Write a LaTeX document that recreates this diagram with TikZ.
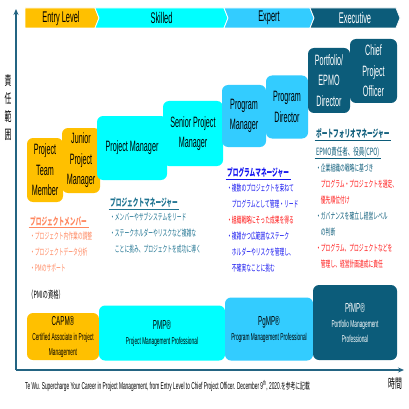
\documentclass[tikz,border=0pt]{standalone}
\usepackage{fontspec}
\setmainfont{Liberation Sans}[FakeStretch=0.48]
\newfontfamily\jp{Noto Sans CJK JP}[FakeStretch=0.53]
\newfontfamily\jphd{Noto Sans CJK JP}[FakeStretch=0.55]
\usetikzlibrary{arrows.meta, positioning}
\definecolor{entryorange}{RGB}{255,192,0}
\definecolor{skillcyan}{RGB}{0,255,255}
\definecolor{expertblue}{RGB}{51,204,255}
\definecolor{execteal}{RGB}{12,92,122}
\definecolor{axisteal}{RGB}{35,100,130}
\definecolor{membercoral}{RGB}{255,135,95}
\definecolor{pmteal}{RGB}{30,115,145}
\definecolor{pgblue}{RGB}{20,20,240}
\definecolor{hotred}{RGB}{255,20,20}
\newcommand{\certsub}[1]{{\fontsize{10}{13}\selectfont #1}}
\tikzset{
    role/.style = {rectangle, rounded corners=6pt, inner sep=1pt, align=center, font=\fontsize{15}{20.5}\selectfont},
    cert/.style = {rectangle, rounded corners=6pt, inner sep=1pt, align=center, font=\fontsize{13}{15}\selectfont},
    phase/.style = {font=\fontsize{15.5}{16}\selectfont},
    jphead/.style = {anchor=west, inner sep=1.5pt, font=\jphd\bfseries\fontsize{10.3}{12}\selectfont},
    jpitems/.style = {anchor=north west, inner sep=0pt, align=left, font=\jp\fontsize{9}{16}\selectfont},
    axis/.style = {draw=axisteal, line width=1.5pt, -{Stealth[length=6pt, width=5pt]}}
}

\begin{document}
\begin{tikzpicture}[x=1pt, y=-1pt]
    \fill[white] (0,0) rectangle (409,409);
    \useasboundingbox (0,0) rectangle (409,409);

    % Header row (career stages)
    \fill[entryorange, draw=white, line width=0.8pt] (25,8) -- (95,8) -- (99,18) -- (95,28) -- (25,28) -- cycle;
    \node[phase] (entry) at (61,18) {Entry Level};
    \foreach \xa/\xb/\col/\txt/\lbl/\nm in {95/224/skillcyan/black/Skilled/skilled, 224/310/expertblue/black/Expert/expert, 310/396/execteal/white/Executive/executive} {
        \fill[\col, draw=white, line width=0.8pt] (\xa,8) -- (\xb,8) -- (\xb+4,18) -- (\xb,28) -- (\xa,28) -- (\xa+4,18) -- cycle;
        \node[phase, text=\txt] (\nm) at ({(\xa+\xb)/2+2},18) {\lbl};
    }

    % Axes
    \coordinate (origin) at (16,370);
    \coordinate (ytip) at (16,9);
    \coordinate (xtip) at (404,370);
    \draw[axis] (origin) -- (ytip);
    \draw[axis] (origin) -- (xtip);
    \node[font=\jp\fontsize{13}{18}\selectfont, align=center, inner sep=0pt] (resplbl) at (8,108) {責\\任\\範\\囲};
    \node[font=\jp\fontsize{13}{14}\selectfont, inner sep=0pt] (timelbl) at (395,384) {時間};

    % Roles
    \node[role, fill=entryorange, minimum width=36pt, minimum height=64pt] (ptm) at (45,170) {Project\\Team\\Member};
    \node[role, fill=entryorange, minimum width=38pt, minimum height=65pt] (jpm) at (81,160.5) {Junior\\Project\\Manager};
    \node[role, fill=skillcyan, minimum width=70pt, minimum height=64pt] (pm) at (132,148) {Project Manager};
    \node[role, fill=skillcyan, minimum width=60pt, minimum height=65pt] (spm) at (193,133.5) {Senior Project\\Manager};
    \node[role, fill=expertblue, minimum width=44pt, minimum height=62pt] (pgm) at (244,116) {Program\\Manager};
    \node[role, fill=expertblue, minimum width=42pt, minimum height=63pt] (pgd) at (287,107) {Program\\Director};
    \node[role, fill=execteal, text=white, minimum width=42pt, minimum height=65pt] (epmo) at (329,80.5) {Portfolio/\\EPMO\\Director};
    \node[role, fill=execteal, text=white, minimum width=47pt, minimum height=64pt] (cpo) at (373.5,71) {Chief\\Project\\Officer};

    % Project team member
    \node[jphead, text=membercoral] (memhead) at (28.5,221) {プロジェクトメンバー};
    \draw[membercoral, line width=1.2pt] (memhead.south west) -- (memhead.south east);
    \node[jpitems, text=membercoral] (memitems) at (30,232) {・プロジェクト内作業の調整\\・プロジェクトデータ分析\\・PMのサポート};

    % Project manager
    \node[jphead, text=pmteal] (pmhead) at (108.5,203) {プロジェクトマネージャー};
    \draw[pmteal, line width=1.2pt] (pmhead.south west) -- (pmhead.south east);
    \node[jpitems, text=pmteal] (pmitems) at (110,213) {・メンバーやサブシステムをリード\\・ステークホルダーやリスクなど複雑な\\　ことに挑み、プロジェクトを成功に導く};

    % Program manager
    \node[jphead, text=pgblue] (pghead) at (225.5,173) {プログラムマネージャー};
    \draw[pgblue, line width=1.2pt] (pghead.south west) -- (pghead.south east);
    \node[jpitems, text=pgblue] (pgitems) at (227,184) {・複数のプロジェクトを束ねて\\　プログラムとして管理・リード\\\textcolor{hotred}{・組織戦略にそった成果を得る}\\・複雑かつ広範囲なステーク\\　ホルダーやリスクを管理し、\\　不確実なことに挑む};

    % Portfolio manager
    \node[jphead, text=execteal] (pfhead) at (314.5,134) {ポートフォリオマネージャー};
    \draw[execteal, line width=1.2pt] (pfhead.south west) -- (pfhead.south east);
    \node[jphead, text=execteal, font=\jphd\fontsize{10}{12}\selectfont] (epmohead) at (314.5,152) {EPMO責任者、役員(CPO)};
    \draw[execteal, line width=1.2pt] (epmohead.south west) -- (epmohead.south east);
    \node[jpitems, text=execteal] (pfitems) at (316,164) {・企業組織の戦略に基づき\\\textcolor{hotred}{　プログラム・プロジェクトを選定、}\\\textcolor{hotred}{　優先順位付け}\\・ガバナンスを確立し経営レベル\\　の判断\\\textcolor{hotred}{・プログラム、プロジェクトなどを}\\\textcolor{hotred}{　管理し、経営計画達成に責任}};

    % Certifications
    \node[anchor=west, inner sep=0pt, font=\jp\fontsize{10}{11}\selectfont] (pmiqual) at (28,295) {（PMIの資格）};
    \node[cert, fill=entryorange, minimum width=72pt, minimum height=47pt] (capm) at (63,336.5) {CAPM®\\\certsub{Certified Associate in Project}\\\certsub{Management}};
    \node[cert, fill=skillcyan, minimum width=126pt, minimum height=55pt] (pmp) at (162,333) {PMP®\\\certsub{Project Management Professional}};
    \node[cert, fill=expertblue, minimum width=88pt, minimum height=63pt] (pgmp) at (269,329) {PgMP®\\\certsub{Program Management Professional}};
    \node[cert, fill=execteal, text=white, minimum width=84pt, minimum height=75pt] (pfmp) at (355,322.5) {PfMP®\\\certsub{Portfolio Management}\\\certsub{Professional}};

    % Source
    \node[anchor=west, inner sep=0pt, font=\fontsize{10}{11}\selectfont] (source) at (25,386) {Te Wu. Supercharge Your Career in Project Management, from Entry Level to Chief Project Officer. December 9\textsuperscript{th}, 2020.{\jp\fontsize{9}{10}\selectfont を参考に記載}};
\end{tikzpicture}
\end{document}
